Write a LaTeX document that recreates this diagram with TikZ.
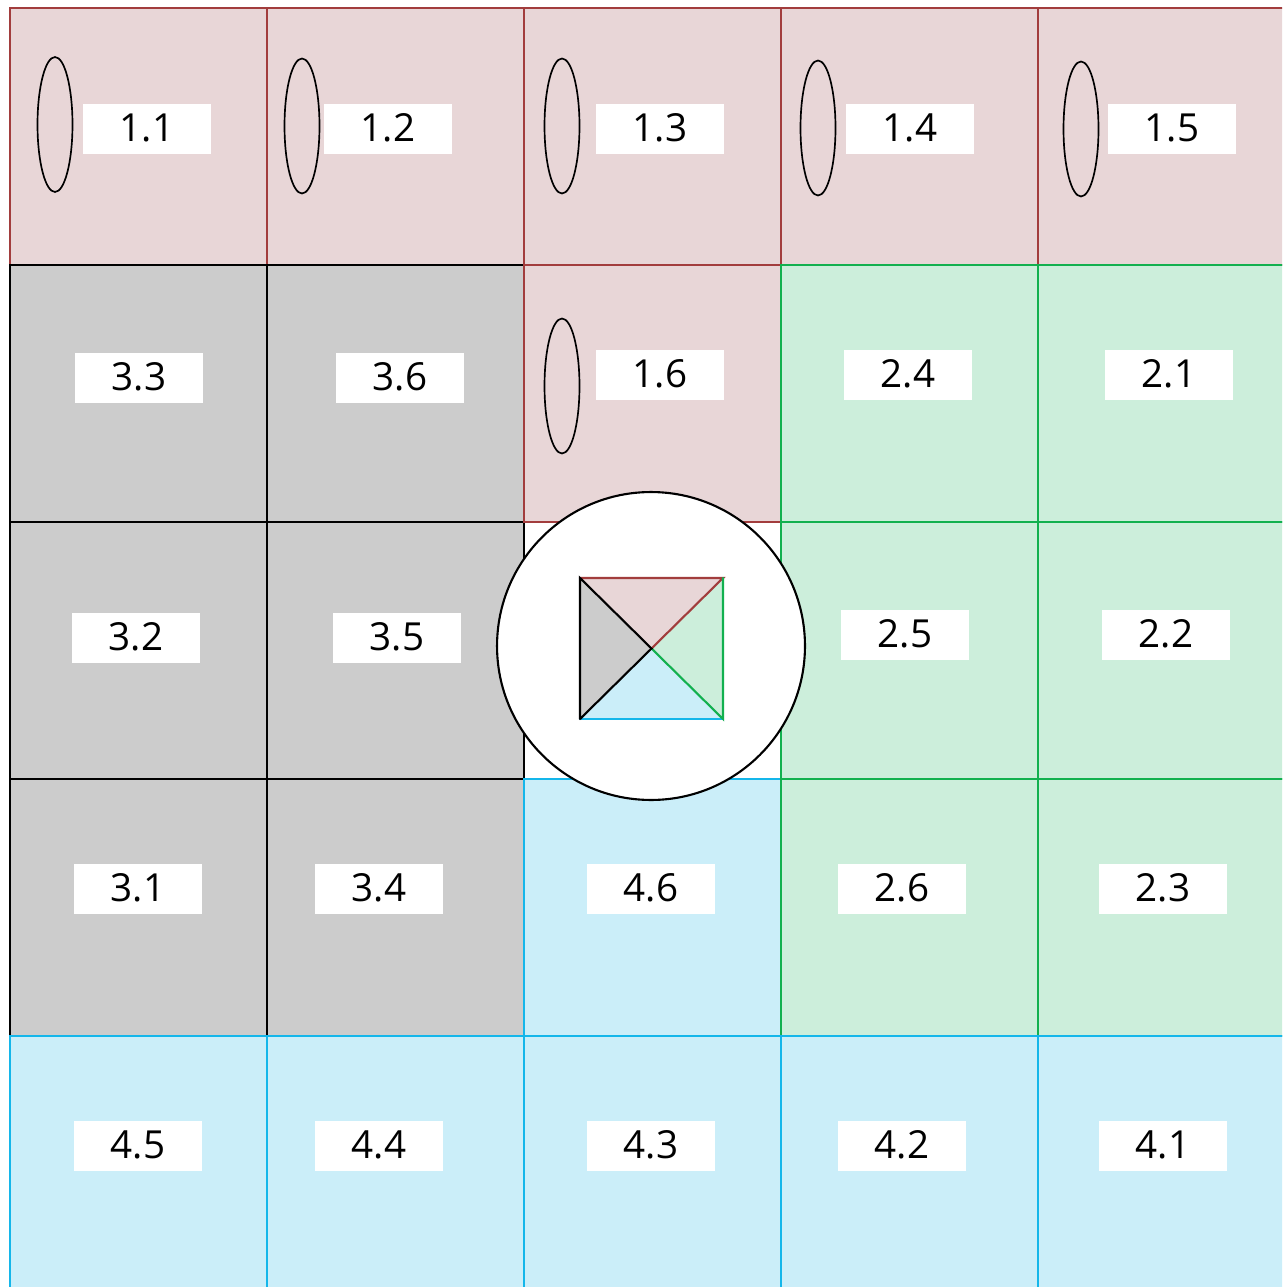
\documentclass[tikz,border=0pt]{standalone}
\usepackage{fontspec}
\setmainfont{Open Sans}
\usetikzlibrary{shapes.geometric}
\definecolor{QRedLine}{HTML}{A23D3D}
\definecolor{QRedFill}{HTML}{E8D6D7}
\definecolor{QGrayFill}{HTML}{CCCCCC}
\definecolor{QGreenLine}{HTML}{12B04F}
\definecolor{QGreenFill}{HTML}{CCEEDB}
\definecolor{QBlueLine}{HTML}{14B6EA}
\definecolor{QBlueFill}{HTML}{CBEEF9}

\begin{document}
\begin{tikzpicture}[
  x=0.02cm,y=-0.02cm,
  cell/.style={rectangle,minimum size=5.14cm,inner sep=0pt,outer sep=0pt,line width=1.3pt},
  redc/.style={cell,draw=QRedLine,fill=QRedFill},
  grayc/.style={cell,draw=black,fill=QGrayFill},
  greenc/.style={cell,draw=QGreenLine,fill=QGreenFill},
  bluec/.style={cell,draw=QBlueLine,fill=QBlueFill},
  tag/.style={rectangle,fill=white,minimum width=2.56cm,minimum height=1cm,inner sep=0pt,
    font=\fontsize{22}{26}\selectfont},
  oval/.style={ellipse,draw=black,line width=0.95pt,minimum width=0.7cm,minimum height=2.7cm,inner sep=0pt},
  edge/.style={line width=1.2pt,line cap=round}
]
  \useasboundingbox (0,0) rectangle (1282,1287);
  \clip (0,0) rectangle (1282,1287);
  % grid of cells
  \foreach \c/\i/\j in {11/0/0,12/1/0,13/2/0,14/3/0,15/4/0}
    {\node[redc] (c\c) at ({138.5+257*\i},{136.5+257*\j}) {};}
  \foreach \c/\i/\j in {33/0/1,36/1/1,32/0/2,35/1/2,31/0/3,34/1/3}
    {\node[grayc] (c\c) at ({138.5+257*\i},{136.5+257*\j}) {};}
  \node[redc] (c16) at (652.5,393.5) {};
  \node[bluec] (c46) at (652.5,907.5) {};
  \foreach \c/\i/\j in {24/3/1,21/4/1,25/3/2,22/4/2,26/3/3,23/4/3}
    {\node[greenc] (c\c) at ({138.5+257*\i},{136.5+257*\j}) {};}
  \foreach \c/\i/\j in {45/0/4,44/1/4,43/2/4,42/3/4,41/4/4}
    {\node[bluec] (c\c) at ({138.5+257*\i},{136.5+257*\j}) {};}
  % ovals
  \foreach \c/\x/\y in {11/55/124.5,12/302/126,13/562/126,14/818/128,15/1081/129,16/562/386}
    {\node[oval] (o\c) at (\x,\y) {};}
  % labels
  \foreach \c/\t/\x/\y in {11/1.1/147/129,12/1.2/388/129,13/1.3/660/129,14/1.4/910/129,
      15/1.5/1172/129,33/3.3/139/378,36/3.6/400/378,16/1.6/660/375,24/2.4/908/375,
      21/2.1/1169/375,32/3.2/136/638,35/3.5/397/638,25/2.5/905/635,22/2.2/1166/635,
      31/3.1/138/889,34/3.4/379/889,46/4.6/651/889,26/2.6/902/889,23/2.3/1163/889,
      45/4.5/138/1146,44/4.4/379/1146,43/4.3/651/1146,42/4.2/902/1146,41/4.1/1163/1146}
    {\node[tag] (t\c) at (\x,\y) {\raisebox{1.5pt}{\t}};}
  % hub
  \node[circle,draw=black,fill=white,line width=1.2pt,minimum size=6.16cm,inner sep=0pt] (hub) at (651,646) {};
  \node[rectangle,minimum width=2.86cm,minimum height=2.82cm,inner sep=0pt,outer sep=0pt] (sq) at (651.5,648.5) {};
  \fill[QRedFill] (sq.north west) -- (sq.north east) -- (sq.center) -- cycle;
  \fill[QGrayFill] (sq.north west) -- (sq.south west) -- (sq.center) -- cycle;
  \fill[QGreenFill] (sq.north east) -- (sq.south east) -- (sq.center) -- cycle;
  \fill[QBlueFill] (sq.south west) -- (sq.south east) -- (sq.center) -- cycle;
  \draw[edge,QRedLine] (sq.north west) -- (sq.north east) -- (sq.center);
  \draw[edge,QBlueLine] (sq.south west) -- (sq.south east);
  \draw[edge,QGreenLine] (sq.north east) -- (sq.south east) -- (sq.center);
  \draw[edge,black] (sq.south west) -- (sq.north west) -- (sq.center) -- (sq.south west);
\end{tikzpicture}
\end{document}
